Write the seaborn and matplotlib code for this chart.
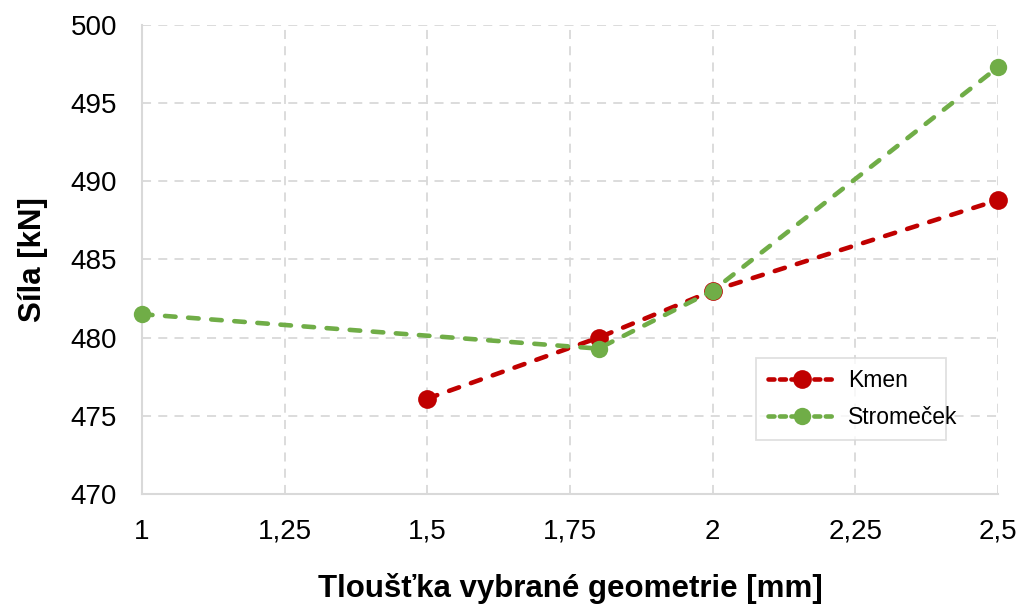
import matplotlib
matplotlib.use("Agg")
from matplotlib import pyplot as plt
from matplotlib.ticker import FuncFormatter, MultipleLocator
import pandas as pd
import seaborn as sns

sns.set_style("white")
plt.rcParams["font.family"] = ["Liberation Sans", "DejaVu Sans"]

# data
kmen_x = [1.5, 1.8, 2.0, 2.5]
kmen_y = [476.1, 480.0, 483.0, 488.8]
strom_x = [1.0, 1.8, 2.0, 2.5]
strom_y = [481.5, 479.3, 483.0, 497.3]

grid_col = "#D9D9D9"

fig = plt.figure(figsize=(10.22, 6.08), dpi=100)
ax = fig.add_axes([0.1389, 0.1875, 0.8376, 0.7714])

style = dict(marker="o", markeredgewidth=0, clip_on=False)
sns.lineplot(x=kmen_x, y=kmen_y, ax=ax, color="#C00000", markersize=13.5,
             label="Kmen", zorder=3, **style)
sns.lineplot(x=strom_x, y=strom_y, ax=ax, color="#70AD47", markersize=12.5,
             label="Stromeček", zorder=4, **style)

# seaborn eats the dashes kwarg, so set the line style on the artists
for ln in ax.lines:
  ln.set_linewidth(3.3)
  ln.set_dashes((2.3, 2.75))
  ln.set_dash_capstyle("round")

ax.set_xlim(1, 2.5)
ax.set_ylim(470, 500)
ax.xaxis.set_major_locator(MultipleLocator(0.25))
ax.yaxis.set_major_locator(MultipleLocator(5))
ax.xaxis.set_major_formatter(FuncFormatter(lambda v, p: f"{v:g}".replace(".", ",")))

ax.grid(True, color=grid_col, linestyle=(0, (5, 4)), linewidth=1.3)
ax.set_axisbelow(True)
for s in ["top", "right"]:
  ax.spines[s].set_visible(False)
for s in ["left", "bottom"]:
  ax.spines[s].set_color(grid_col)
  ax.spines[s].set_linewidth(1.5)

ax.tick_params(axis="both", length=0, labelsize=20, colors="black")
ax.tick_params(axis="y", pad=18)
ax.tick_params(axis="x", pad=18)

ax.set_xlabel("Tloušťka vybrané geometrie [mm]", fontsize=22.5, fontweight="bold",
              labelpad=20, color="black")
ax.set_ylabel("Síla [kN]", fontsize=22.5, fontweight="bold", labelpad=16, color="black")

leg = ax.legend(loc="lower left", bbox_to_anchor=(0.704, 0.09, 0.249, 0.19),
                mode="expand", fontsize=16.5, fancybox=False, frameon=True,
                edgecolor=grid_col, borderpad=0.5, handlelength=3.0,
                handletextpad=0.5, labelspacing=0.6)
leg.get_frame().set_linewidth(1.3)
for t in leg.get_texts():
  t.set_color("black")
for h in leg.get_lines():
  h.set_linewidth(3.3)
  h.set_dashes((1.3, 1.2))

plt.savefig("out.png", dpi=100)
